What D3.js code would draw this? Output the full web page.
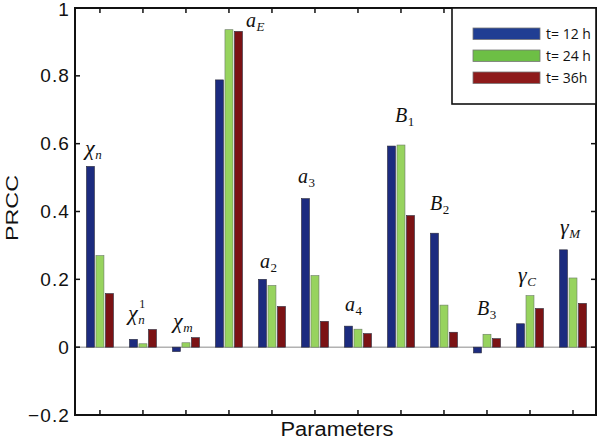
<!DOCTYPE html>
<html>
<head>
<meta charset="utf-8">
<script src="https://cdn.jsdelivr.net/npm/d3@7/dist/d3.min.js"></script>
<style>
  html, body { margin: 0; padding: 0; background: #fff; }
  svg { display: block; }
</style>
</head>
<body>
<svg id="chart" width="600" height="441"></svg>
<script>
// ---- data ----
const categories = [1, 2, 3, 4, 5, 6, 7, 8, 9, 10, 11, 12];
const seriesNames = ["t= 12 h", "t= 24 h", "t= 36h"];
const t12 = [0.533, 0.023, -0.013, 0.788, 0.200, 0.438, 0.062, 0.593, 0.336, -0.017, 0.069, 0.287];
const t24 = [0.270, 0.010, 0.013, 0.936, 0.182, 0.211, 0.053, 0.596, 0.124, 0.038, 0.152, 0.204];
const t36 = [0.158, 0.052, 0.028, 0.931, 0.120, 0.076, 0.040, 0.388, 0.044, 0.025, 0.114, 0.129];
const yTicks = [-0.2, 0, 0.2, 0.4, 0.6, 0.8, 1];
// parameter labels: [main symbol, subscript, superscript, subscript italic?]
const paramLabels = [
  ["χ", "n", "", true],
  ["χ", "n", "1", true],
  ["χ", "m", "", true],
  ["a", "E", "", true],
  ["a", "2", "", false],
  ["a", "3", "", false],
  ["a", "4", "", false],
  ["B", "1", "", false],
  ["B", "2", "", false],
  ["B", "3", "", false],
  ["γ", "C", "", true],
  ["γ", "M", "", true]
];

// ---- styling / layout ----
const barColors = ["#1c2b7f", "#97d35e", "#7b1214"];
const legendColors = ["#203e93", "#6dbf45", "#8e1b1b"];
// label offsets (px) relative to group centre and top of tallest bar
const labelOffsets = [[-15, -11], [-15, -10], [-13, -10], [17, -3], [-12, -11], [-17, -16],
                      [-13, -15], [-6, -23], [-14, -23], [-10, -19], [-12, -14], [-13, -16]];

const L = 75, R = 596, T = 8, B = 415;
const svg = d3.select("#chart");

const x = d3.scaleLinear().domain([0.42, 12.535]).range([L, R]);
const y = d3.scaleLinear().domain([-0.2, 1]).range([B, T]);
const inner = d3.scaleBand().domain(d3.range(3)).range([-13.5, 13.5]).paddingInner(0.16);

const series = [t12, t24, t36];

// zero line
svg.append("line")
  .attr("x1", L).attr("x2", R).attr("y1", y(0)).attr("y2", y(0))
  .attr("stroke", "#8a8a8a").attr("stroke-width", 1);

// bars
series.forEach((vals, s) => {
  svg.append("g").selectAll("rect")
    .data(categories)
    .join("rect")
    .attr("x", (c, i) => x(c) + inner(s))
    .attr("width", inner.bandwidth())
    .attr("y", (c, i) => y(Math.max(0, vals[i])))
    .attr("height", (c, i) => Math.abs(y(vals[i]) - y(0)))
    .attr("fill", barColors[s])
    .attr("stroke", s === 1 ? "#6b7a66" : "#2a2a3a")
    .attr("stroke-width", 0.6);
});

// axes
const fontSans = "'Liberation Sans', Arial, Helvetica, sans-serif";
const gLeft = svg.append("g").attr("transform", `translate(${L},0)`)
  .call(d3.axisLeft(y).tickValues(yTicks).tickSize(0).tickPadding(5)
    .tickFormat(d => d === 0 ? "0" : (d < 0 ? "\u2212" + Math.abs(d) : String(d))));
gLeft.select(".domain").remove();
gLeft.selectAll("text").attr("font-family", fontSans).attr("font-size", 19)
  .attr("letter-spacing", 1.1).attr("fill", "#111");
gLeft.selectAll(".tick").filter(d => d === 1).select("text").attr("dy", "0.38em");

// inner ticks
const tickG = svg.append("g").attr("stroke", "#111").attr("stroke-width", 1.5);
yTicks.forEach(v => {
  tickG.append("line").attr("x1", L).attr("x2", L + 5).attr("y1", y(v)).attr("y2", y(v));
  tickG.append("line").attr("x1", R).attr("x2", R - 5).attr("y1", y(v)).attr("y2", y(v));
});
categories.forEach(c => {
  tickG.append("line").attr("x1", x(c)).attr("x2", x(c)).attr("y1", B).attr("y2", B - 5);
  tickG.append("line").attr("x1", x(c)).attr("x2", x(c)).attr("y1", T).attr("y2", T + 5);
});

// box
svg.append("rect").attr("x", L).attr("y", T).attr("width", R - L).attr("height", B - T)
  .attr("fill", "none").attr("stroke", "#111").attr("stroke-width", 2);

// axis titles
svg.append("text").attr("x", 337).attr("y", 436).attr("text-anchor", "middle")
  .attr("font-family", fontSans).attr("font-size", 20).attr("fill", "#111")
  .attr("textLength", 113).attr("lengthAdjust", "spacingAndGlyphs")
  .text("Parameters");
svg.append("text").attr("transform", "translate(18,208) rotate(-90)").attr("text-anchor", "middle")
  .attr("font-family", fontSans).attr("font-size", 17).attr("fill", "#111")
  .attr("textLength", 66).attr("lengthAdjust", "spacingAndGlyphs")
  .text("PRCC");

// parameter labels
const serif = "'Liberation Serif', 'Times New Roman', serif";
paramLabels.forEach((lab, i) => {
  const top = d3.max(series, s => s[i]);
  const g = svg.append("g")
    .attr("transform", `translate(${x(categories[i]) + labelOffsets[i][0]},${y(top) + labelOffsets[i][1]})`)
    .attr("font-family", serif).attr("fill", "#111");
  const isGreek = lab[0] === "χ" || lab[0] === "γ";
  const main = g.append("text").attr("font-size", isGreek ? 22 : 20)
    .attr("font-style", "italic").text(lab[0]);
  const w = main.node().getComputedTextLength();
  g.append("text").attr("x", w + 0.5).attr("y", 4).attr("font-size", 13)
    .attr("font-style", lab[3] ? "italic" : "normal").text(lab[1]);
  if (lab[2]) {
    g.append("text").attr("x", w + 1.5).attr("y", -12).attr("font-size", 12).text(lab[2]);
  }
});

// legend
const lg = svg.append("g");
lg.append("rect").attr("x", 452).attr("y", T).attr("width", R - 452).attr("height", 96)
  .attr("fill", "#fff").attr("stroke", "#111").attr("stroke-width", 1.6);
seriesNames.forEach((name, s) => {
  const cy = 34 + s * 22;
  lg.append("rect").attr("x", 473).attr("y", cy - 6).attr("width", 67).attr("height", 11.5)
    .attr("fill", legendColors[s]).attr("stroke", "#777").attr("stroke-width", 0.8);
  lg.append("text").attr("x", 546).attr("y", cy + 5).attr("font-family", "'Open Sans', 'Liberation Sans', sans-serif")
    .attr("font-size", 14).attr("fill", "#111").text(name);
});
</script>
</body>
</html>
